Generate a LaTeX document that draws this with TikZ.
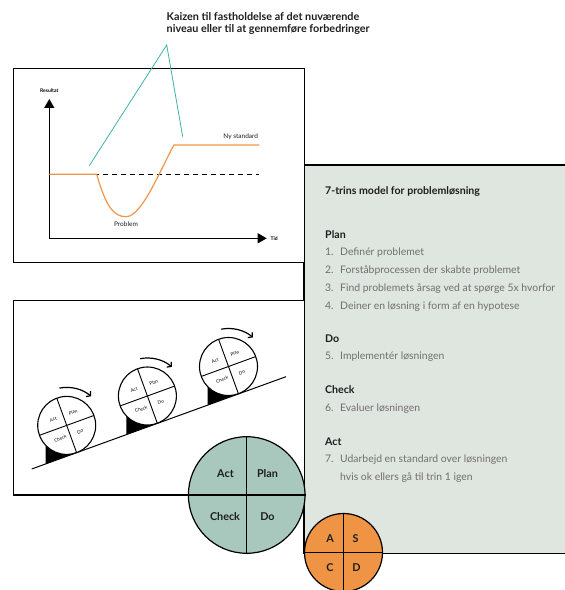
\documentclass[tikz,border=0pt]{standalone}
\usepackage{fontspec}
\setmainfont{Lato}
\usetikzlibrary{arrows.meta}

\definecolor{kaizenteal}{RGB}{62,178,168}
\definecolor{curveorange}{RGB}{240,150,72}
\definecolor{panelgreen}{RGB}{223,229,223}
\definecolor{cyclegreen}{RGB}{168,200,190}
\definecolor{asdcorange}{RGB}{238,148,68}
\definecolor{itemgray}{RGB}{112,112,112}
\definecolor{headgray}{RGB}{30,30,30}

\begin{document}
\begin{tikzpicture}[x=1pt,y=1pt,
  frame/.style={draw,line width=1.5pt},
  axis/.style={-{Triangle[width=10pt,length=9pt]},line width=1pt},
  trend/.style={draw=curveorange,line width=1.2pt},
  level/.style={line width=1pt,dash pattern=on 5pt off 4pt},
  pointer/.style={draw=kaizenteal,line width=0.8pt},
  axislabel/.style={font=\bfseries\fontsize{5}{6}\selectfont,inner sep=1pt},
  curvelabel/.style={font=\fontsize{6.5}{8}\selectfont,text=headgray,inner sep=1pt},
  heading/.style={anchor=base west,inner sep=0pt,font=\bfseries\fontsize{10.6}{12}\selectfont,text=headgray},
  item/.style={anchor=base west,inner sep=0pt,font=\fontsize{10.4}{12}\selectfont,text=itemgray},
  wheel/.style={draw,fill=white,circle,minimum size=58pt,inner sep=0pt,line width=1.1pt},
  wheeltext/.style={font=\fontsize{4.6}{5}\selectfont,rotate=20,inner sep=0pt},
  turn/.style={-{Straight Barb[length=3pt,width=7pt]},line width=1.2pt},
  quarter/.style={font=\bfseries\fontsize{10.8}{12}\selectfont,text=headgray}
]
  \useasboundingbox (0,0) rectangle (565,590);

  % side panel with the 7 steps
  \fill[panelgreen] (304,36.7) rectangle (566,425);
  \draw[frame] (566,425) -- (304,425) -- (304,36.7) -- (566,36.7);

  \node[heading] (title) at (325,395.8) {7-trins model for problemløsning};
  \node[heading] (plan) at (325,351.5) {Plan};
  \node[item] (step1) at (325,334.2) {\makebox[15pt][l]{1.}Definér problemet};
  \node[item] (step2) at (325,316.5) {\makebox[15pt][l]{2.}Forståbprocessen der skabte problemet};
  \node[item] (step3) at (325,298.8) {\makebox[15pt][l]{3.}Find problemets årsag ved at spørge 5x hvorfor};
  \node[item] (step4) at (325,280.8) {\makebox[15pt][l]{4.}Deiner en løsning i form af en hypotese};
  \node[heading] (do) at (325,247.5) {Do};
  \node[item] (step5) at (325,230.5) {\makebox[15pt][l]{5.}Implementér løsningen};
  \node[heading] (check) at (325,196.5) {Check};
  \node[item] (step6) at (325,178.2) {\makebox[15pt][l]{6.}Evaluer løsningen};
  \node[heading] (act) at (325,144.2) {Act};
  \node[item] (step7) at (325,127.2) {\makebox[15pt][l]{7.}Udarbejd en standard over løsningen};
  \node[item] (step7b) at (340,109.2) {hvis ok ellers gå til trin 1 igen};

  % kaizen graph
  \draw[frame,fill=white] (13.3,327.7) rectangle (304.3,521.7);
  \coordinate (origin) at (49.3,351.7);
  \coordinate (ytop) at (49.3,491);
  \coordinate (xend) at (266.7,351.7);
  \draw[axis] (origin) -- (ytop);
  \draw[axis] (origin) -- (xend);
  \node[axislabel] (resultat) at (49.3,499.3) {Resultat};
  \node[axislabel,anchor=west] (tid) at (269.5,351.7) {Tid};

  \coordinate (oldlevel) at (49.3,415.7);
  \coordinate (dip) at (126,373.3);
  \coordinate (newlevel) at (174,445);
  \draw[level] (oldlevel) -- (259.3,415.7);
  \draw[trend] (oldlevel) -- (96.7,415.7)
    .. controls (106,383) and (114,373.3) .. (dip)
    .. controls (142,373.3) and (160,420) .. (newlevel) -- (259.3,445);
  \node[curvelabel] (nystd) at (240.7,453.3) {Ny standard};
  \node[curvelabel] (problem) at (126,365.7) {Problem};

  \node[anchor=base west,align=left,inner sep=0pt,
    font=\bfseries\fontsize{10.8}{12}\selectfont,text=headgray] (kaizen) at (166.5,557.5)
    {Kaizen til fastholdelse af det nuværende\\niveau eller til at gennemføre forbedringer};
  \coordinate (apex) at (166.7,545);
  \coordinate (atdip) at (89.3,424.3);
  \coordinate (atrise) at (182.7,453.3);
  \draw[pointer] (atdip) -- (apex) -- (atrise);

  % wheels rolling up the slope
  \draw[frame,fill=white] (13.3,95) rectangle (304.3,289.3);
  \coordinate (rampstart) at (31.7,121);
  \coordinate (rampend) at (286,213.3);
  \draw[line width=1pt] (rampstart) -- (rampend);

  \foreach \cx/\cy [count=\i] in {66.7/164.6,147.4/194,228.5/223.5}{
    \begin{scope}[shift={(\cx,\cy)}]
      \fill (-21,-20) -- (-21,-38.5) -- (9.9,-27.25) -- cycle;
      \node[wheel] (wheel\i) at (0,0) {};
      \begin{scope}[rotate=20]
        \draw[line width=0.9pt] (-29,0) -- (29,0) (0,-29) -- (0,29);
        \node[wheeltext] (wact\i) at (-10.5,10.3) {Act};
        \node[wheeltext] (wplan\i) at (10.5,10.3) {Plan};
        \node[wheeltext] (wcheck\i) at (-10.5,-10.3) {Check};
        \node[wheeltext] (wdo\i) at (10.5,-10.3) {Do};
      \end{scope}
      \draw[turn] (101:38) arc[start angle=101,end angle=50,radius=38];
    \end{scope}
  }

  % PDCA and SDCA circles
  \node[circle,draw,fill=cyclegreen,minimum size=116.6pt,inner sep=0pt,line width=1.2pt] (pdca) at (246.7,95) {};
  \draw[line width=1.2pt] (pdca.north) -- (pdca.south) (pdca.west) -- (pdca.east);
  \node[quarter] (pdcaact) at (225.5,116) {Act};
  \node[quarter] (pdcaplan) at (267.5,116) {Plan};
  \node[quarter] (pdcacheck) at (225,73) {Check};
  \node[quarter] (pdcado) at (267.5,73) {Do};

  \node[circle,draw,fill=asdcorange,minimum size=78pt,inner sep=0pt,line width=1.2pt] (sdca) at (343.5,37.5) {};
  \draw[line width=1.2pt] (sdca.north) -- (sdca.south) (sdca.west) -- (sdca.east);
  \node[quarter] (sdcaa) at (330,51) {A};
  \node[quarter] (sdcas) at (355.5,51) {S};
  \node[quarter] (sdcac) at (330,22.5) {C};
  \node[quarter] (sdcad) at (356.5,22.5) {D};
\end{tikzpicture}
\end{document}
